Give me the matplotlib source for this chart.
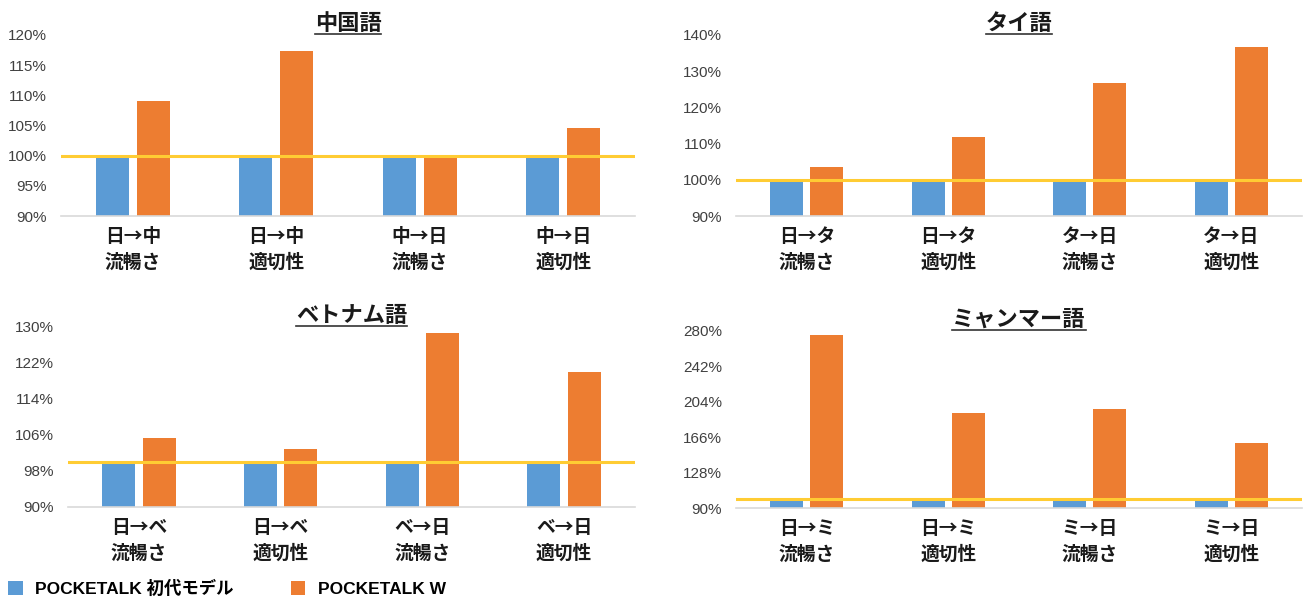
import matplotlib
matplotlib.use('Agg')
import matplotlib.pyplot as plt
from matplotlib.patches import Patch
from matplotlib.lines import Line2D

plt.rcParams['font.family'] = ['Liberation Sans', 'Noto Sans CJK JP']

BLUE = '#5B9BD5'
ORANGE = '#ED7D31'
YELLOW = '#FFCC33'

# data
titles = ['中国語', 'タイ語', 'ベトナム語', 'ミャンマー語']

cats_zh = ['日→中\n流暢さ', '日→中\n適切性', '中→日\n流暢さ', '中→日\n適切性']
cats_th = ['日→タ\n流暢さ', '日→タ\n適切性', 'タ→日\n流暢さ', 'タ→日\n適切性']
cats_vi = ['日→ベ\n流暢さ', '日→ベ\n適切性', 'ベ→日\n流暢さ', 'ベ→日\n適切性']
cats_my = ['日→ミ\n流暢さ', '日→ミ\n適切性', 'ミ→日\n流暢さ', 'ミ→日\n適切性']

first_zh = [100, 100, 100, 100]
first_th = [100, 100, 100, 100]
first_vi = [100, 100, 100, 100]
first_my = [100, 100, 100, 100]

w_zh = [109.0, 117.3, 100.0, 104.6]
w_th = [103.4, 111.9, 126.8, 136.8]
w_vi = [105.3, 102.9, 128.7, 119.9]
w_my = [275.5, 192.3, 196.1, 159.7]

ticks_zh = [90, 95, 100, 105, 110, 115, 120]
ticks_th = [90, 100, 110, 120, 130, 140]
ticks_vi = [90, 98, 106, 114, 122, 130]
ticks_my = [90, 128, 166, 204, 242, 280]

legend_labels = ['POCKETALK 初代モデル', 'POCKETALK W']

W, H = 1306, 599
fig = plt.figure(figsize=(W / 100, H / 100), dpi=100)


def px_axes(l, r, top, bottom):
    return fig.add_axes([l / W, (H - bottom) / H, (r - l) / W, (bottom - top) / H])


panels = [
    (px_axes(61, 635, 35, 216), cats_zh, first_zh, w_zh, ticks_zh, titles[0], 'Liberation Sans'),
    (px_axes(736, 1302, 35, 216), cats_th, first_th, w_th, ticks_th, titles[1], 'Liberation Sans Narrow'),
    (px_axes(68, 635, 327, 507), cats_vi, first_vi, w_vi, ticks_vi, titles[2], 'Liberation Sans'),
    (px_axes(736, 1302, 331, 508), cats_my, first_my, w_my, ticks_my, titles[3], 'Liberation Sans Narrow'),
]

bw = 0.233
off = 0.143
title_texts = []
for ax, cats, first, wv, ticks, title, tfont in panels:
    x = list(range(len(cats)))
    ax.bar([i - off for i in x], first, width=bw, color=BLUE, zorder=2)
    ax.bar([i + off for i in x], wv, width=bw, color=ORANGE, zorder=2)
    ax.axhline(100, color=YELLOW, lw=2.2, zorder=3)
    ax.set_xlim(-0.5, len(cats) - 0.5)
    ax.set_ylim(ticks[0], ticks[-1])
    ax.set_yticks(ticks)
    ax.set_yticklabels(['%d%%' % t for t in ticks], fontsize=11, color='#404040',
                       family=[tfont, 'Liberation Sans'])
    ax.set_xticks(x)
    ax.set_xticklabels(cats, fontsize=13.5, fontweight='bold', linespacing=1.45,
                       family=['Noto Sans CJK JP'], color='#1a1a1a')
    ax.tick_params(axis='both', length=0)
    ax.tick_params(axis='y', pad=10)
    ax.tick_params(axis='x', pad=8)
    for s in ['top', 'right', 'left']:
        ax.spines[s].set_visible(False)
    ax.spines['bottom'].set_color('#D9D9D9')
    ax.spines['bottom'].set_linewidth(1.2)
    t = ax.set_title(title, fontsize=16, fontweight='bold', family=['Noto Sans CJK JP'],
                     pad=-1, color='#1a1a1a')
    title_texts.append(t)

handles = [Patch(facecolor=BLUE), Patch(facecolor=ORANGE)]
fig.legend(handles, legend_labels, loc='lower left', bbox_to_anchor=(8 / W, 2 / H), ncol=2,
           frameon=False, handlelength=0.85, handleheight=0.85, handletextpad=0.7,
           columnspacing=3.3, borderpad=0, borderaxespad=0,
           prop={'family': ['Liberation Sans', 'Noto Sans CJK JP'], 'weight': 'bold', 'size': 12.5})

# underline the titles
fig.canvas.draw()
r = fig.canvas.get_renderer()
for t in title_texts:
    bb = t.get_window_extent(r)
    y = (bb.y0 + 1) / H
    fig.add_artist(Line2D([bb.x0 / W, bb.x1 / W], [y, y], color='#333333', lw=1.2, zorder=5))

fig.savefig('out.png', dpi=100)
